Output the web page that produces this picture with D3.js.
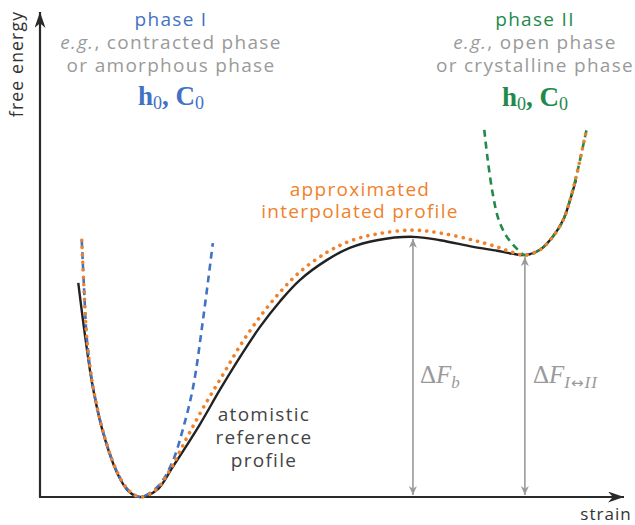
<!DOCTYPE html>
<html><head><meta charset="utf-8">
<script src="https://cdn.jsdelivr.net/npm/d3@7"></script>
<style>body{margin:0;background:#fff}svg{display:block}</style>
</head><body>
<script>
// ---- data (strain, free energy) in arbitrary units ----
const referenceStrain = [0.66,0.78,0.91,1.09,1.33,1.52,1.72,2.02,2.29,2.76,3.10,3.45,3.79,4.14,4.48,4.95,5.34,5.81,6.43,6.90,7.47,7.88,8.14,8.36,8.62,8.84,9.02,9.14,9.24];
const referenceEnergy = [4.46,3.33,2.29,1.33,0.50,0.13,0.00,0.15,0.63,1.52,2.23,2.92,3.54,4.08,4.52,4.94,5.19,5.35,5.42,5.35,5.21,5.13,5.07,5.04,5.15,5.42,5.77,6.19,6.60];

const interpStrain = [0.72,0.76,0.81,0.91,1.09,1.33,1.52,1.72,1.98,2.24,2.53,2.81,3.14,3.45,3.79,4.14,4.48,4.95,5.34,5.81,6.43,6.90,7.47,7.88,8.14,8.36,8.62,8.84,9.02,9.14,9.24,9.33,9.43];
const interpEnergy = [5.35,4.31,3.27,2.33,1.35,0.52,0.15,0.00,0.13,0.56,1.23,1.85,2.52,3.15,3.75,4.27,4.69,5.10,5.33,5.48,5.56,5.50,5.35,5.21,5.10,5.04,5.15,5.42,5.77,6.19,6.65,7.13,7.69];

const phase1Strain = [0.72,0.76,0.81,0.91,1.09,1.33,1.52,1.72,1.86,2.07,2.29,2.47,2.64,2.81,2.98];
const phase1Energy = [5.35,4.33,3.27,2.33,1.35,0.52,0.15,0.00,0.06,0.27,0.75,1.44,2.29,3.69,5.29];

const phase2Strain = [7.66,7.72,7.81,7.91,8.05,8.24,8.36,8.62,8.84,9.02,9.14,9.24,9.33,9.43];
const phase2Energy = [7.65,7.02,6.29,5.77,5.42,5.15,5.04,5.15,5.42,5.77,6.19,6.65,7.13,7.69];

const barrierStrain = 6.43, barrierEnergy = 5.42;
const phase2MinStrain = 8.36, phase2MinEnergy = 5.04;

const phase1Lines = ["phase I", "e.g., contracted phase", "or amorphous phase"];
const phase2Lines = ["phase II", "e.g., open phase", "or crystalline phase"];
const interpLabel = ["approximated", "interpolated profile"];
const refLabel = ["atomistic", "reference", "profile"];

// ---- drawing ----
const W = 635, H = 525;
const svg = d3.select("body").append("svg").attr("width", W).attr("height", H);
const x = d3.scaleLinear().domain([0, 10]).range([40, 620]);
const y = d3.scaleLinear().domain([0, 10]).range([497, 17]);

const BLUE = "#4272c4", GREEN = "#23894a", ORANGE = "#f0812b", GRAY = "#9a9a9a", DARK = "#222";
const SANS = "'Open Sans', 'Noto Sans', sans-serif";
const SERIF = "'Liberation Serif', 'DejaVu Serif', serif";

const defs = svg.append("defs");
function marker(id, color, len, wid) {
  defs.append("marker").attr("id", id).attr("markerUnits", "userSpaceOnUse")
    .attr("viewBox", `0 0 ${len} ${wid}`).attr("refX", len).attr("refY", wid/2)
    .attr("markerWidth", len).attr("markerHeight", wid).attr("orient", "auto-start-reverse")
    .append("path").attr("d", `M0,0 L${len},${wid/2} L0,${wid} L${len*0.3},${wid/2} Z`).attr("fill", color);
}
marker("axisArrow", "#2a2a2a", 16, 11);
marker("grayArrow", GRAY, 9, 8);

// axes
svg.append("line").attr("x1", x(0)).attr("y1", y(0)).attr("x2", x(0)).attr("y2", 12)
  .attr("stroke", "#2a2a2a").attr("stroke-width", 2.2).attr("marker-end", "url(#axisArrow)");
svg.append("line").attr("x1", x(0) - 1).attr("y1", y(0)).attr("x2", 624).attr("y2", y(0))
  .attr("stroke", "#2a2a2a").attr("stroke-width", 2.2).attr("marker-end", "url(#axisArrow)");

svg.append("text").attr("transform", `translate(23,64) rotate(-90)`).attr("text-anchor", "middle")
  .attr("font-family", SANS).attr("font-size", 17.5).attr("letter-spacing", 1.2).attr("fill", "#333").text("free energy");
svg.append("text").attr("x", 606).attr("y", 520).attr("text-anchor", "middle")
  .attr("font-family", SANS).attr("font-size", 17).attr("letter-spacing", 1).attr("fill", "#333").text("strain");

// gray double arrows
[[barrierStrain, barrierEnergy], [phase2MinStrain, phase2MinEnergy]].forEach(([s, e]) => {
  svg.append("line").attr("x1", x(s)).attr("x2", x(s)).attr("y1", y(0) - 2).attr("y2", y(e) + 2)
    .attr("stroke", GRAY).attr("stroke-width", 1.6)
    .attr("marker-start", "url(#grayArrow)").attr("marker-end", "url(#grayArrow)");
});

const line = (xs, ys) => d3.line().curve(d3.curveCatmullRom.alpha(0.5))
  .x((d, i) => x(xs[i])).y((d, i) => y(ys[i]))(xs);

svg.append("path").attr("d", line(referenceStrain, referenceEnergy))
  .attr("fill", "none").attr("stroke", DARK).attr("stroke-width", 2.4);
svg.append("path").attr("d", line(phase1Strain, phase1Energy))
  .attr("fill", "none").attr("stroke", BLUE).attr("stroke-width", 2.6).attr("stroke-dasharray", "7,5");
svg.append("path").attr("d", line(phase2Strain, phase2Energy))
  .attr("fill", "none").attr("stroke", GREEN).attr("stroke-width", 2.6).attr("stroke-dasharray", "7,5");
svg.append("path").attr("d", line(interpStrain, interpEnergy))
  .attr("fill", "none").attr("stroke", ORANGE).attr("stroke-width", 3.6)
  .attr("stroke-linecap", "round").attr("stroke-dasharray", "0.1,7.3");

// text blocks
function block(lines, cx, y0, dy, colors, size) {
  lines.forEach((t, i) => {
    const tx = svg.append("text").attr("x", cx).attr("y", y0 + i * dy).attr("text-anchor", "middle")
      .attr("font-family", SANS).attr("font-size", size).attr("letter-spacing", 1.3).attr("fill", colors[i]);
    if (t.startsWith("e.g.")) {
      tx.append("tspan").attr("font-style", "italic").text("e.g.");
      tx.append("tspan").text(t.slice(4));
    } else tx.text(t);
  });
}
block(phase1Lines, 171, 26, 23, [BLUE, GRAY, GRAY], 19);
block(phase2Lines, 535, 26, 23, [GREEN, GRAY, GRAY], 19);
block(interpLabel, 360, 196, 22, [ORANGE, ORANGE], 19);
block(refLabel, 264, 421, 23, ["#444", "#444", "#444"], 19);

function h0C0(cx, by, color) {
  const t = svg.append("text").attr("x", cx).attr("y", by).attr("text-anchor", "middle")
    .attr("font-family", SERIF).attr("font-weight", "bold").attr("font-size", 27).attr("fill", color);
  t.append("tspan").text("h");
  t.append("tspan").attr("font-size", 18).attr("font-weight", "normal").attr("dy", 4).text("0");
  t.append("tspan").attr("dy", -4).text(", C");
  t.append("tspan").attr("font-size", 18).attr("font-weight", "normal").attr("dy", 4).text("0");
}
h0C0(171, 105, BLUE);
h0C0(535, 106, GREEN);

function deltaF(px, by, subParts) {
  const t = svg.append("text").attr("x", px).attr("y", by)
    .attr("font-family", SERIF).attr("font-size", 25).attr("fill", GRAY);
  t.append("tspan").text("Δ");
  t.append("tspan").attr("font-style", "italic").text("F");
  subParts.forEach((p, i) => {
    const sp = t.append("tspan").attr("font-size", 17).attr("letter-spacing", 1)
      .attr("font-style", p === "↔" ? "normal" : "italic").text(p);
    if (p === "↔") sp.attr("font-family", "'DejaVu Sans', sans-serif").attr("font-size", 15);
    if (i === 0) sp.attr("dy", 5);
  });
}
deltaF(x(barrierStrain) + 7, 383, ["b"]);
deltaF(x(phase2MinStrain) + 8, 383, ["I", "↔", "II"]);
</script>
</body></html>
